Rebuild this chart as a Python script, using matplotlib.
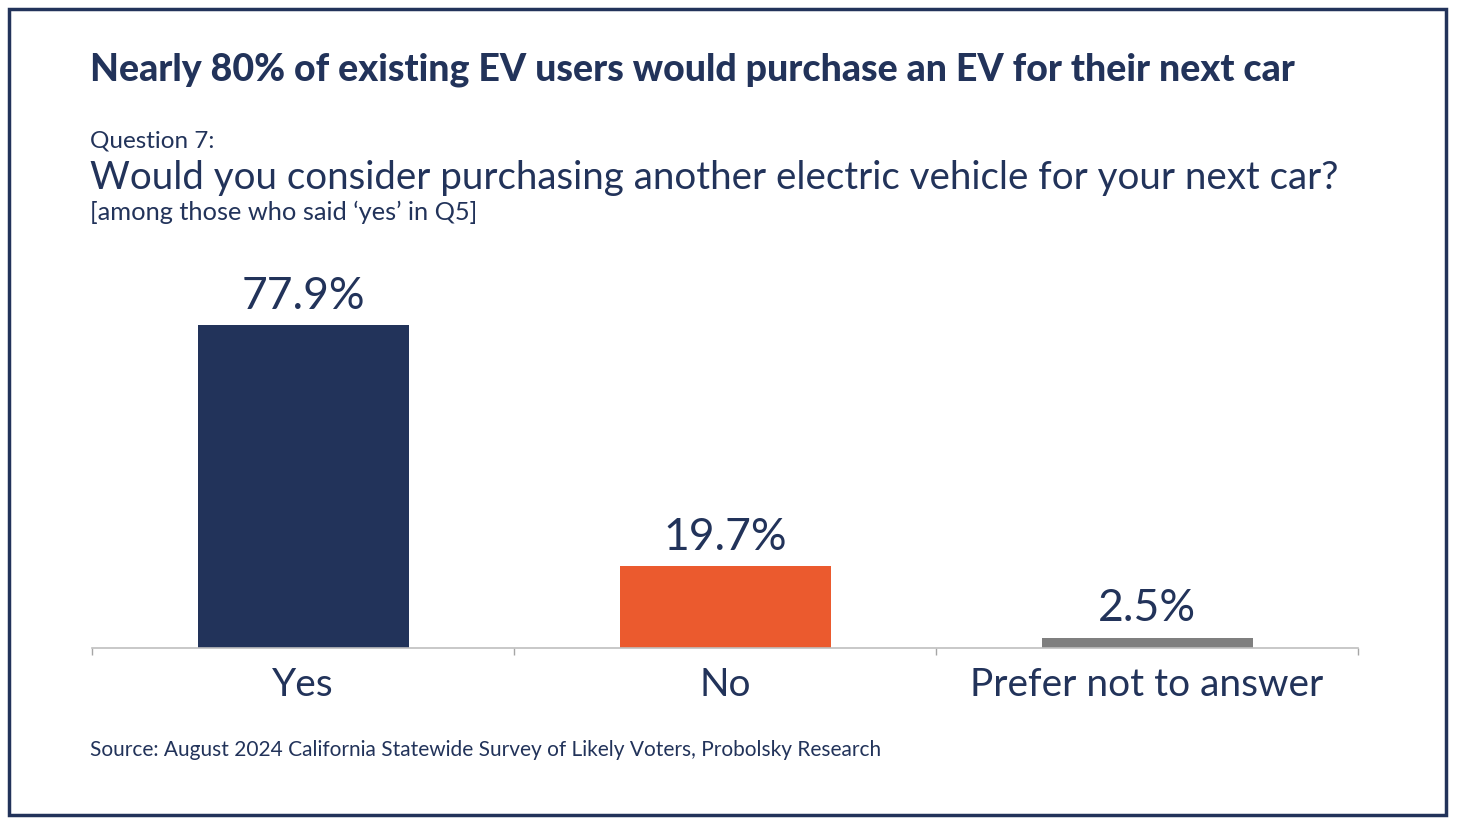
import matplotlib.pyplot as plt
from matplotlib.patches import Rectangle

# data
categories = ["Yes", "No", "Prefer not to answer"]
values = [77.9, 19.7, 2.5]
bar_colors = ["#22335A", "#EB5A2E", "#7F7F7F"]

NAVY = "#22335A"
plt.rcParams['font.family'] = ['Lato', 'DejaVu Sans']

W, H = 1458, 824
fig = plt.figure(figsize=(W / 100, H / 100), dpi=100)

# outer frame
fig.patches.append(Rectangle((9 / W, 9 / H), 1437 / W, 806 / H, transform=fig.transFigure,
                             fill=False, edgecolor=NAVY, linewidth=2.5))

def fy(y):
    return 1 - y / H

fig.text(90 / W, fy(70), "Nearly 80% of existing EV users would purchase an EV for their next car",
         fontsize=27, fontweight='black', color=NAVY, va='center', ha='left')
fig.text(90 / W, fy(141), "Question 7:", fontsize=17.5, color=NAVY, va='center', ha='left')
fig.text(90 / W, fy(178), "Would you consider purchasing another electric vehicle for your next car?",
         fontsize=27.7, color=NAVY, va='center', ha='left')
fig.text(90 / W, fy(212), "[among those who said \u2018yes\u2019 in Q5]", fontsize=18.3, color=NAVY,
         va='center', ha='left')
fig.text(90 / W, fy(750), "Source: August 2024 California Statewide Survey of Likely Voters, Probolsky Research",
         fontsize=15, color=NAVY, va='center', ha='left')

# axes
ax_left, ax_right, ax_bottom, ax_top = 92, 1358, 648, 260
ax = fig.add_axes([ax_left / W, fy(ax_bottom), (ax_right - ax_left) / W, (ax_bottom - ax_top) / H])
x = range(len(categories))
bars = ax.bar(x, values, width=0.5, color=bar_colors)
ax.set_xlim(-0.5, 2.5)
ax.set_ylim(0, 93.6)

for spine in ['top', 'right', 'left']:
    ax.spines[spine].set_visible(False)
ax.spines['bottom'].set_color('#BFBFBF')
ax.spines['bottom'].set_linewidth(1.2)
ax.set_yticks([])
ax.set_xticks([-0.5, 0.5, 1.5, 2.5])
ax.set_xticklabels([])
ax.tick_params(axis='x', direction='out', length=5, color='#A6A6A6', width=1)

for i, cat in enumerate(categories):
    ax.text(i, -9, cat, ha='center', va='center', fontsize=28, color=NAVY)

for b, v in zip(bars, values):
    ax.annotate(f"{v}%", (b.get_x() + b.get_width() / 2, v), xytext=(0, 6),
                textcoords='offset points', ha='center', va='bottom', fontsize=32, color=NAVY)

fig.savefig("out.png", dpi=100)
